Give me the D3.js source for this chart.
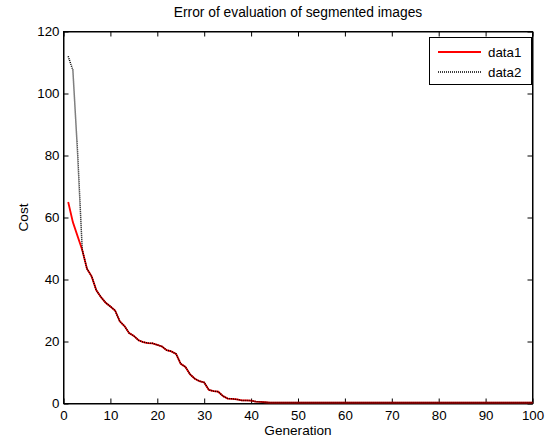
<!DOCTYPE html>
<html>
<head>
<meta charset="utf-8">
<script src="https://d3js.org/d3.v7.min.js"></script>
<style>
body { margin: 0; background: #fff; }
text { font-family: "Liberation Sans", Arial, sans-serif; }
</style>
</head>
<body>
<svg id="chart"></svg>
<script>
const generations = [
  1, 2, 3, 4, 5, 6, 7, 8, 9, 10, 11, 12, 13, 14, 15, 16, 17, 18, 19, 20,
  21, 22, 23, 24, 25, 26, 27, 28, 29, 30, 31, 32, 33, 34, 35, 36, 37, 38, 39, 40,
  41, 42, 43, 44, 45, 46, 47, 48, 49, 50, 51, 52, 53, 54, 55, 56, 57, 58, 59, 60,
  61, 62, 63, 64, 65, 66, 67, 68, 69, 70, 71, 72, 73, 74, 75, 76, 77, 78, 79, 80,
  81, 82, 83, 84, 85, 86, 87, 88, 89, 90, 91, 92, 93, 94, 95, 96, 97, 98, 99, 100
]
const data1 = [
  65, 58.5, 54, 49.5, 43.5, 41, 36.5, 34.3, 32.5, 31.3, 30, 26.5, 25, 22.7, 21.8, 20.4, 19.8, 19.5, 19.4, 18.9,
  18.4, 17.2, 16.8, 16, 12.8, 11.8, 9.4, 8, 7.2, 6.8, 4.4, 4, 3.8, 2.4, 1.6, 1.5, 1.3, 1.0, 1.0, 0.9,
  0.6, 0.5, 0.4, 0.3, 0.3, 0.3, 0.3, 0.3, 0.3, 0.3, 0.3, 0.3, 0.3, 0.3, 0.3, 0.3, 0.3, 0.3, 0.3, 0.3,
  0.3, 0.3, 0.3, 0.3, 0.3, 0.3, 0.3, 0.3, 0.3, 0.3, 0.3, 0.3, 0.3, 0.3, 0.3, 0.3, 0.3, 0.3, 0.3, 0.3,
  0.3, 0.3, 0.3, 0.3, 0.3, 0.3, 0.3, 0.3, 0.3, 0.3, 0.3, 0.3, 0.3, 0.3, 0.3, 0.3, 0.3, 0.3, 0.3, 0.3
]
const data2 = [
  112, 107.5, 81, 49.5, 43.5, 41, 36.5, 34.3, 32.5, 31.3, 30, 26.5, 25, 22.7, 21.8, 20.4, 19.8, 19.5, 19.4, 18.9,
  18.4, 17.2, 16.8, 16, 12.8, 11.8, 9.4, 8, 7.2, 6.8, 4.4, 4, 3.8, 2.4, 1.6, 1.5, 1.3, 1.0, 1.0, 0.9,
  0.6, 0.5, 0.4, 0.3, 0.3, 0.3, 0.3, 0.3, 0.3, 0.3, 0.3, 0.3, 0.3, 0.3, 0.3, 0.3, 0.3, 0.3, 0.3, 0.3,
  0.3, 0.3, 0.3, 0.3, 0.3, 0.3, 0.3, 0.3, 0.3, 0.3, 0.3, 0.3, 0.3, 0.3, 0.3, 0.3, 0.3, 0.3, 0.3, 0.3,
  0.3, 0.3, 0.3, 0.3, 0.3, 0.3, 0.3, 0.3, 0.3, 0.3, 0.3, 0.3, 0.3, 0.3, 0.3, 0.3, 0.3, 0.3, 0.3, 0.3
]
const xTicks = [0, 10, 20, 30, 40, 50, 60, 70, 80, 90, 100]
const yTicks = [0, 20, 40, 60, 80, 100, 120]
const seriesNames = ["data1", "data2"]

const width = 548, height = 443
const plotLeft = 63.5, plotRight = 532.5, plotTop = 31.5, plotBottom = 403.5

const svg = d3.select("#chart")
  .attr("width", width)
  .attr("height", height)

const x = d3.scaleLinear().domain([0, 100]).range([plotLeft, plotRight])
const y = d3.scaleLinear().domain([0, 120]).range([plotBottom, plotTop])

// axes, matlab style: ticks point inward, on all four sides
svg.append("g")
  .attr("transform", `translate(0,${plotBottom})`)
  .call(d3.axisBottom(x).tickValues(xTicks).tickSize(-5).tickSizeOuter(0).tickPadding(7))
svg.append("g")
  .attr("transform", `translate(0,${plotTop})`)
  .call(d3.axisTop(x).tickValues(xTicks).tickSize(-5).tickSizeOuter(0).tickFormat(""))
svg.append("g")
  .attr("transform", `translate(${plotLeft},0)`)
  .call(d3.axisLeft(y).tickValues(yTicks).tickSize(-5).tickSizeOuter(0).tickPadding(4))
svg.append("g")
  .attr("transform", `translate(${plotRight},0)`)
  .call(d3.axisRight(y).tickValues(yTicks).tickSize(-5).tickSizeOuter(0).tickFormat(""))

svg.selectAll(".tick text")
  .attr("font-family", "Liberation Sans, Arial, sans-serif")
  .attr("font-size", 13.3)
  .attr("fill", "#000")
svg.selectAll(".tick line").attr("stroke", "#000")
svg.selectAll(".domain").attr("stroke", "#000")

svg.append("rect")
  .attr("x", plotLeft).attr("y", plotTop)
  .attr("width", plotRight - plotLeft).attr("height", plotBottom - plotTop)
  .attr("fill", "none").attr("stroke", "#000")

const line = d3.line()
  .x(function(d) { return x(d[0]) })
  .y(function(d) { return y(d[1]) })

svg.append("path")
  .datum(generations.map(function(g, i) { return [g, data1[i]] }))
  .attr("fill", "none")
  .attr("stroke", "#ff0000")
  .attr("stroke-width", 1.8)
  .attr("d", line)

svg.append("path")
  .datum(generations.map(function(g, i) { return [g, data2[i]] }))
  .attr("fill", "none")
  .attr("stroke", "#000")
  .attr("stroke-width", 1.5)
  .attr("stroke-dasharray", "1,1")
  .attr("d", line)

// titles
svg.append("text")
  .attr("x", (plotLeft + plotRight) / 2).attr("y", 17)
  .attr("text-anchor", "middle").attr("font-size", 13.8)
  .text("Error of evaluation of segmented images")
svg.append("text")
  .attr("x", (plotLeft + plotRight) / 2).attr("y", 434.5)
  .attr("text-anchor", "middle").attr("font-size", 13.6)
  .text("Generation")
svg.append("text")
  .attr("transform", `translate(27.5,${(plotTop + plotBottom) / 2}) rotate(-90)`)
  .attr("text-anchor", "middle").attr("font-size", 13.6)
  .text("Cost")

// legend
const legend = svg.append("g")
legend.append("rect")
  .attr("x", 429.5).attr("y", 37.5)
  .attr("width", 102).attr("height", 47)
  .attr("fill", "#fff").attr("stroke", "#000")

const styles = [
  { stroke: "#ff0000", width: 1.8, dash: null },
  { stroke: "#000", width: 1.5, dash: "1,1" }
]
seriesNames.forEach(function(name, i) {
  legend.append("line")
    .attr("x1", 438).attr("x2", 481)
    .attr("y1", 52 + i * 20).attr("y2", 52 + i * 20)
    .attr("stroke", styles[i].stroke)
    .attr("stroke-width", styles[i].width)
    .attr("stroke-dasharray", styles[i].dash)
  legend.append("text")
    .attr("x", 488).attr("y", 56.5 + i * 20)
    .attr("font-size", 13.3)
    .text(name)
})
</script>
</body>
</html>
